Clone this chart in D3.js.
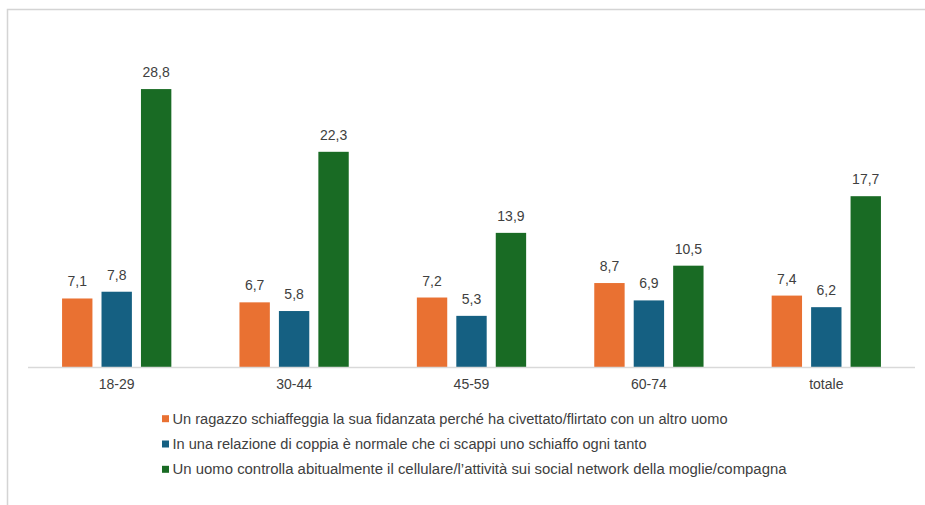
<!DOCTYPE html>
<html>
<head>
<meta charset="utf-8">
<script src="https://cdn.jsdelivr.net/npm/d3@7"></script>
<style>
  html, body { margin: 0; padding: 0; background: #fff; }
  svg { display: block; }
</style>
</head>
<body>
<svg id="chart" width="925" height="505"></svg>
<script>
const categories = ["18-29", "30-44", "45-59", "60-74", "totale"];
const seriesNames = [
  "Un ragazzo schiaffeggia la sua fidanzata perché ha civettato/flirtato con un altro uomo",
  "In una relazione di coppia è normale che ci scappi uno schiaffo ogni tanto",
  "Un uomo controlla abitualmente il cellulare/l’attività sui social network della moglie/compagna"
];
const seriesA = [7.1, 6.7, 7.2, 8.7, 7.4];
const seriesB = [7.8, 5.8, 5.3, 6.9, 6.2];
const seriesC = [28.8, 22.3, 13.9, 10.5, 17.7];
const colors = ["#E97132", "#156082", "#196B24"];

const values = [seriesA, seriesB, seriesC];
const svg = d3.select("#chart");
const font = "'Liberation Sans', Arial, sans-serif";
const locale = d3.formatLocale({decimal: ",", thousands: ".", grouping: [3], currency: ["", "€"]});
const fmt = locale.format(".1f");

// frame
svg.append("path")
  .attr("d", "M7.5,505 V9.5 H925")
  .attr("fill", "none")
  .attr("stroke", "#d4d4d4")
  .attr("stroke-width", 1.5);

const baseY = 367;
const x0 = d3.scaleBand().domain(categories).range([28, 915]).paddingInner(0.384).paddingOuter(0.192);
const x1 = d3.scaleBand().domain(d3.range(3)).range([0, x0.bandwidth()]).paddingInner(0.23);
const y = d3.scaleLinear().domain([0, 30]).range([baseY, baseY - 30 * 9.65]);

const groups = svg.append("g").selectAll("g")
  .data(categories)
  .join("g")
  .attr("transform", c => `translate(${x0(c)},0)`);

groups.selectAll("rect")
  .data((c, i) => values.map((s, k) => ({k, v: s[i]})))
  .join("rect")
  .attr("x", d => x1(d.k))
  .attr("width", x1.bandwidth())
  .attr("y", d => y(d.v))
  .attr("height", d => baseY - y(d.v))
  .attr("fill", d => colors[d.k]);

groups.selectAll("text.val")
  .data((c, i) => values.map((s, k) => ({k, v: s[i]})))
  .join("text")
  .attr("class", "val")
  .attr("x", d => x1(d.k) + x1.bandwidth() / 2)
  .attr("y", d => y(d.v) - 12)
  .attr("text-anchor", "middle")
  .attr("font-family", font)
  .attr("font-size", 14)
  .attr("fill", "#404040")
  .text(d => fmt(d.v));

// axis
const axis = svg.append("g").attr("transform", `translate(0,${baseY})`)
  .call(d3.axisBottom(x0).tickSize(0).tickPadding(12));
axis.select(".domain").attr("stroke", "#d9d9d9").attr("stroke-width", 1.5)
  .attr("d", "M28,0.5H915");
axis.selectAll("text")
  .attr("font-family", font)
  .attr("font-size", 14)
  .attr("fill", "#404040");

// legend
const legendWidths = [555, 474, 614];
const leg = svg.append("g").selectAll("g")
  .data(seriesNames)
  .join("g")
  .attr("transform", (d, i) => `translate(162,${418.7 + i * 25.3})`);
leg.append("rect")
  .attr("x", 0).attr("y", -3.5)
  .attr("width", 7).attr("height", 7)
  .attr("fill", (d, i) => colors[i]);
leg.append("text")
  .attr("x", 10.5)
  .attr("y", 5)
  .attr("font-family", font)
  .attr("font-size", 14)
  .attr("fill", "#404040")
  .attr("textLength", (d, i) => legendWidths[i])
  .attr("lengthAdjust", "spacingAndGlyphs")
  .text(d => d);
</script>
</body>
</html>
